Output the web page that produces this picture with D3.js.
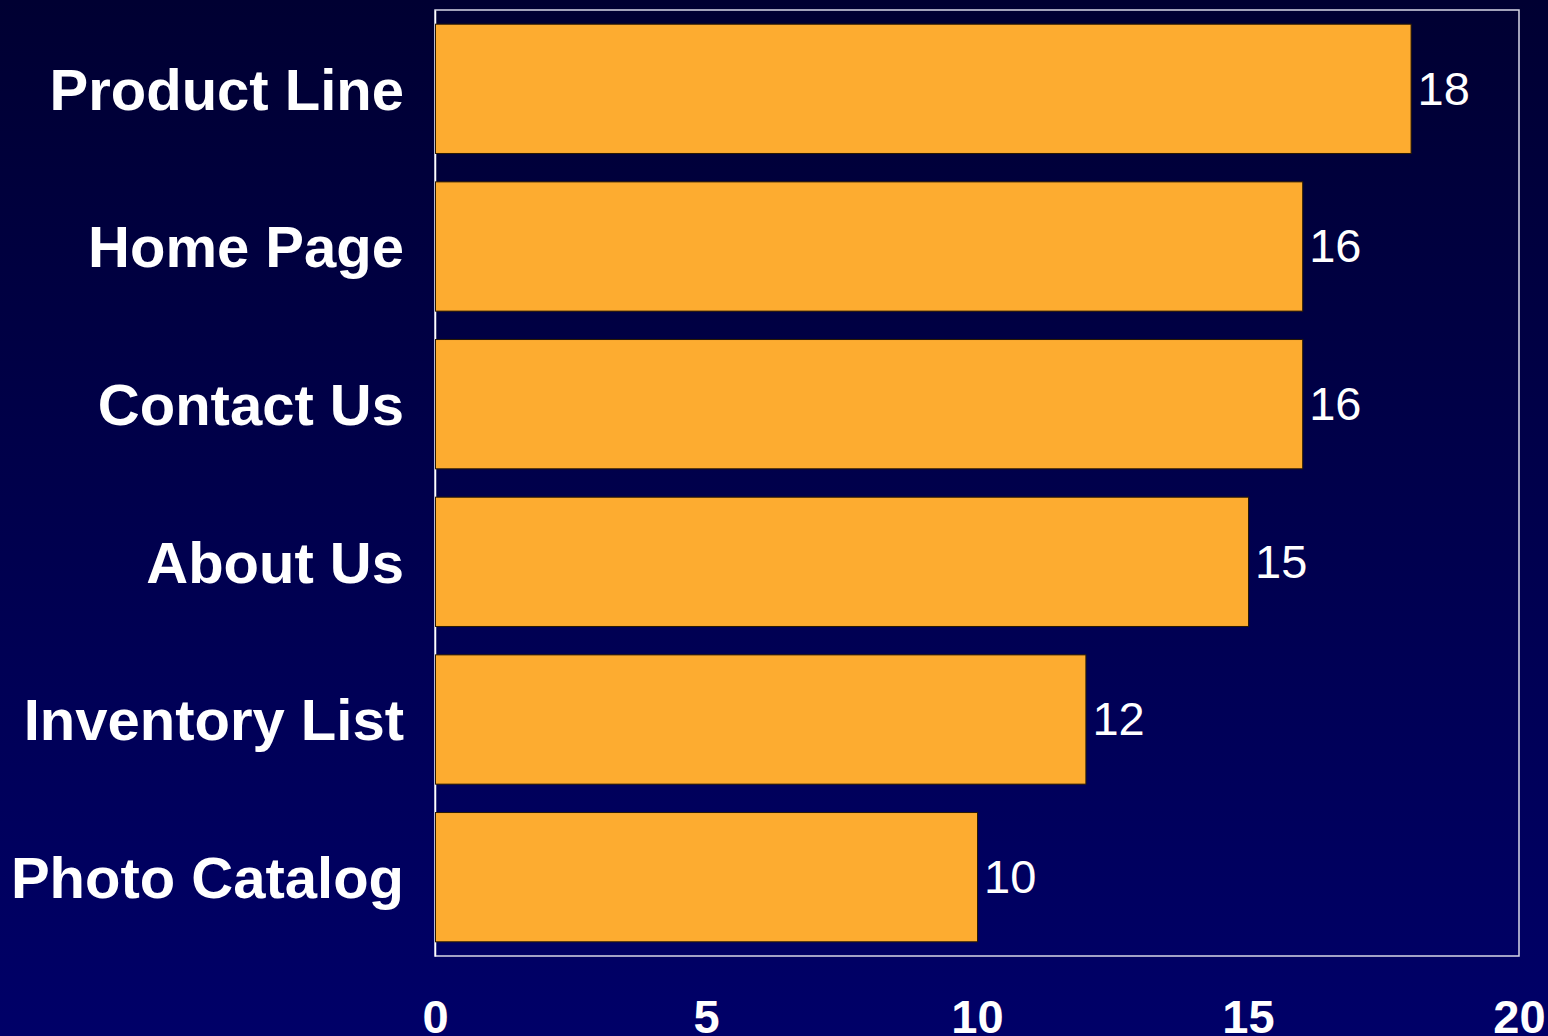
<!DOCTYPE html>
<html>
<head>
<meta charset="utf-8">
<script src="https://cdn.jsdelivr.net/npm/d3@7"></script>
<style>
  html, body { margin: 0; padding: 0; overflow: hidden; }
  svg { display: block; }
</style>
</head>
<body>
<script>
// pages and how many visits each one got
const pages = ["Product Line", "Home Page", "Contact Us", "About Us", "Inventory List", "Photo Catalog"];
const visits = [18, 16, 16, 15, 12, 10];
const xTicks = [0, 5, 10, 15, 20];

const W = 1548, H = 1036;
const margin = {top: 10, right: 29, bottom: 80, left: 435};
const width = W - margin.left - margin.right;
const height = H - margin.top - margin.bottom;

const data = pages.map((p, i) => ({name: p, value: visits[i]}));

const svg = d3.select("body").append("svg")
  .attr("width", W)
  .attr("height", H);

const defs = svg.append("defs");
const bg = defs.append("linearGradient")
  .attr("id", "bg")
  .attr("x1", 0).attr("y1", 0).attr("x2", 0).attr("y2", 1);
bg.append("stop").attr("offset", "0%").attr("stop-color", "#000032");
bg.append("stop").attr("offset", "100%").attr("stop-color", "#000068");

svg.append("rect")
  .attr("width", W)
  .attr("height", H)
  .attr("fill", "url(#bg)");

const g = svg.append("g")
  .attr("transform", "translate(" + margin.left + "," + margin.top + ")");

const x = d3.scaleLinear()
  .domain([0, 20])
  .range([0, width]);

const y = d3.scaleBand()
  .domain(pages)
  .range([0, height])
  .paddingInner(0.18)
  .paddingOuter(0.09);

// frame
g.append("rect")
  .attr("x", 0)
  .attr("y", 0)
  .attr("width", width)
  .attr("height", height)
  .attr("fill", "none")
  .attr("stroke", "#d8d8e8")
  .attr("stroke-width", 1.5);

// x axis labels
const xAxis = g.append("g")
  .attr("transform", "translate(0," + height + ")")
  .call(d3.axisBottom(x).tickValues(xTicks).tickSize(0).tickPadding(0));
xAxis.select(".domain").remove();
xAxis.selectAll("text")
  .attr("y", 77)
  .attr("dy", 0)
  .attr("fill", "#ffffff")
  .style("font-family", "'Liberation Sans', Arial, sans-serif")
  .style("font-weight", "bold")
  .style("font-size", "47px");

// y axis with category labels
const yAxis = g.append("g")
  .call(d3.axisLeft(y).tickSize(0).tickPadding(31));
yAxis.select(".domain")
  .attr("stroke", "#ffffff")
  .attr("stroke-width", 1.5);
yAxis.selectAll("text")
  .attr("fill", "#ffffff")
  .attr("dy", "0.36em")
  .style("font-family", "'Liberation Sans', Arial, sans-serif")
  .style("font-weight", "bold")
  .style("font-size", "58px");

g.selectAll(".bar")
  .data(data)
  .enter().append("rect")
  .attr("class", "bar")
  .attr("x", x(0) + 0.5)
  .attr("y", d => y(d.name))
  .attr("width", d => x(d.value) - x(0))
  .attr("height", y.bandwidth())
  .attr("fill", "#fdac30")
  .attr("stroke", "#2a1a00")
  .attr("stroke-width", 1);

g.selectAll(".val")
  .data(data)
  .enter().append("text")
  .attr("class", "val")
  .attr("x", d => x(d.value) + 7)
  .attr("y", d => y(d.name) + y.bandwidth() / 2)
  .attr("dy", "0.34em")
  .attr("fill", "#ffffff")
  .style("font-family", "'Liberation Sans', Arial, sans-serif")
  .style("font-size", "47px")
  .text(d => d.value);
</script>
</body>
</html>
